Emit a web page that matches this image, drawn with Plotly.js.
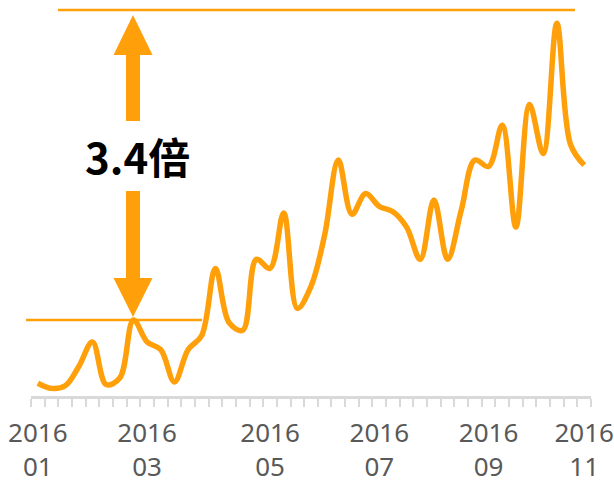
<!DOCTYPE html>
<html>
<head>
<meta charset="utf-8">
<script src="https://cdn.plot.ly/plotly-3.0.1.min.js"></script>
<style>html,body{margin:0;padding:0;background:#fff;}#chart{width:614px;height:487px;}</style>
</head>
<body>
<div id="chart"></div>
<script>
// Weekly index (category positions)
const weeks = [0,1,2,3,4,5,6,7,8,9,10,11,12,13,14,15,16,17,18,19,20,21,22,23,24,25,26,27,28,29,30,31,32,33,34,35,36,37,38,39,40];
// Index values (start-of-year peak = 100)
const values = [51,47,49,64,83,50,55,100,83,77,52,77,88,140,98,92,147,140,183,109,126,166,224,182,198,188,184,172,147,193,147,185,224,219,251,172,267,229,330,236,220];
// Tick labels
const tickPos = [0,8,17,25,33,40];
const tickLabels = ["2016<br>01","2016<br>03","2016<br>05","2016<br>07","2016<br>09","2016<br>11"];
// Reference levels
const baseLevel = 100;
const peakLevel = 340;
const ratioText = "3.4倍";

const ORANGE = '#ff9f0a';
const plotL = 31, plotW = 560, plotH = 396;
const px = v => (v - plotL) / plotW;
const py = v => (plotH - v) / plotH;

function poly(points){
  return 'M' + points.map(p => px(p[0]).toFixed(5) + ',' + py(p[1]).toFixed(5)).join(' L') + ' Z';
}
const cx = 133;
const shapes = [
  {type:'line', xref:'paper', yref:'paper', x0:px(58), x1:px(575), y0:py(10), y1:py(10), line:{color:ORANGE, width:2.5}},
  {type:'line', xref:'paper', yref:'paper', x0:px(26), x1:px(202), y0:py(320), y1:py(320), line:{color:ORANGE, width:2.5}},
  // up arrow
  {type:'path', xref:'paper', yref:'paper', path: poly([[cx,15],[cx+19.5,55],[cx+7,55],[cx+7,121],[cx-7,121],[cx-7,55],[cx-19.5,55]]), fillcolor:ORANGE, line:{width:0}},
  // down arrow
  {type:'path', xref:'paper', yref:'paper', path: poly([[cx,317],[cx+19.5,278],[cx+7,278],[cx+7,191],[cx-7,191],[cx-7,278],[cx-19.5,278]]), fillcolor:ORANGE, line:{width:0}}
];

const trace = {
  x: weeks, y: values, type:'scatter', mode:'lines',
  line:{color:ORANGE, width:5.5, shape:'spline', smoothing:1},
  hoverinfo:'skip'
};

const layout = {
  width:614, height:487,
  margin:{l:plotL, r:614-plotL-plotW, t:0, b:487-plotH},
  paper_bgcolor:'#fff', plot_bgcolor:'#fff',
  showlegend:false,
  xaxis:{
    range:[-0.5,40.5], showgrid:false, zeroline:false,
    showline:true, linecolor:'#d9d9d9', linewidth:3,
    tickmode:'array', tickvals:tickPos, ticktext:tickLabels,
    ticks:'', ticklabelstandoff:12, ticklabeloverflow:'allow',
    tickfont:{family:'Noto Sans', size:26, color:'#595959'},
    minor:{tick0:-0.5, dtick:1, ticks:'outside', ticklen:8, tickwidth:2, tickcolor:'#d9d9d9', showgrid:false}
  },
  yaxis:{range:[41.09,348.06], visible:false, showgrid:false, zeroline:false},
  shapes: shapes,
  annotations:[{
    xref:'paper', yref:'paper', x:px(137), y:py(155), xanchor:'center', yanchor:'middle',
    text:'<b>'+ratioText+'</b>', showarrow:false,
    font:{family:'Noto Sans CJK SC', size:42, color:'#000'}
  }]
};

Plotly.newPlot('chart',[trace],layout,{staticPlot:true});
</script>
</body>
</html>
